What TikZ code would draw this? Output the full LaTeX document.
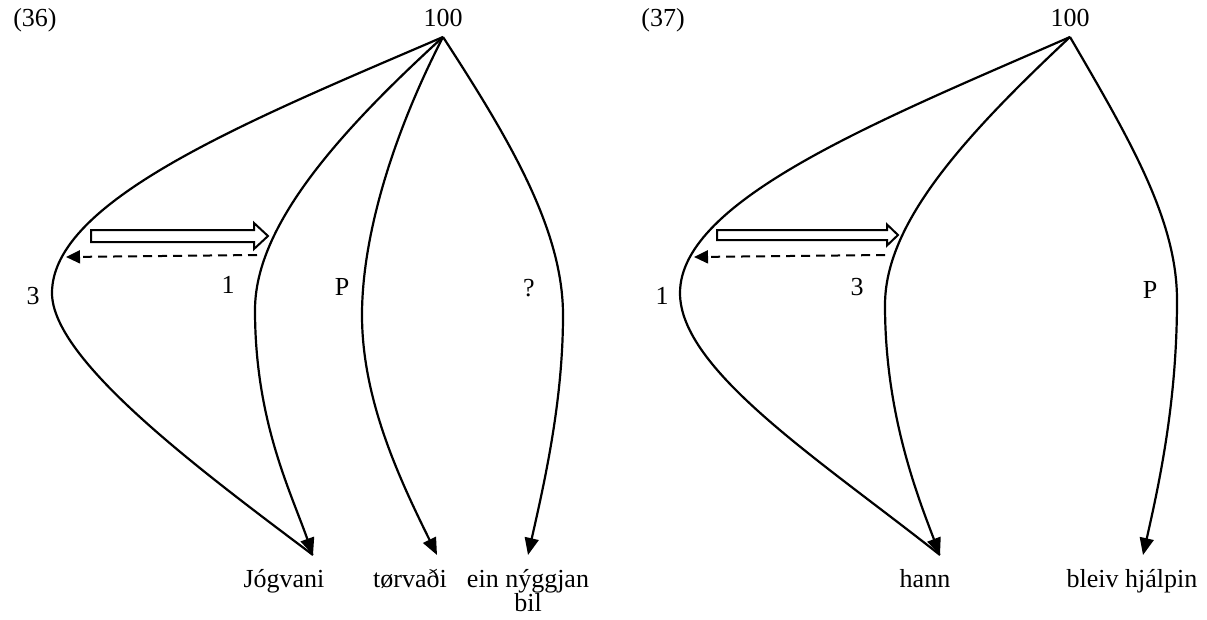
\documentclass[tikz,border=0pt]{standalone}
\usepackage{fontspec}
\setmainfont{Liberation Serif}
\usetikzlibrary{arrows.meta}
\begin{document}
\begin{tikzpicture}[x=1pt,y=-1pt,
  font=\fontsize{26}{24}\selectfont,
  curve/.style={line width=2.2pt},
  tipped/.style={curve,-{Triangle[length=17pt,width=14pt]}},
  dashback/.style={line width=2pt,dash pattern=on 9pt off 6pt,-{Triangle[length=14pt,width=13pt]}},
  hollow/.style={line width=2pt,fill=white,line join=miter},
  txt/.style={inner sep=0pt,anchor=center},
  word/.style={inner sep=0pt,anchor=base}]
\useasboundingbox (0,0) rectangle (1207,619);

% ===== (36) =====
\node[txt] (lab36) at (35,20) {(36)};
\coordinate (A) at (443,37);
\node[txt] (top36) at (443,18) {100};
\coordinate (Lt) at (52,293);
\coordinate (Jt) at (313,555);
\coordinate (Tt) at (437,555);
\coordinate (Et) at (528,555);
\coordinate (c2m) at (255,310);
\coordinate (c3m) at (362,315);
\coordinate (c4m) at (563,315);

\draw[curve] (A) .. controls (250,120) and (52,200) .. (Lt)
  .. controls (52,360) and (200,470) .. (Jt);
\draw[tipped] (A) .. controls (330,140) and (255,230) .. (c2m)
  .. controls (255,420) and (290,490) .. (Jt);
\draw[tipped] (A) .. controls (390,140) and (362,240) .. (c3m)
  .. controls (362,400) and (400,480) .. (Tt);
\draw[tipped] (A) .. controls (510,140) and (563,230) .. (c4m)
  .. controls (563,400) and (545,480) .. (Et);

% hollow arrow
\coordinate (h1s) at (91,236);
\coordinate (h1e) at (268,236);
\draw[hollow] (h1s) ++(0,-6) -- ++(163,0) -- ++(0,-7) -- (h1e) -- ++(-14,13) -- ++(0,-7) -- ++(-163,0) -- cycle;
% dashed arrow
\coordinate (d1s) at (257,255);
\coordinate (d1e) at (66,257);
\draw[dashback] (d1s) -- (d1e);

\node[txt] (n3a) at (33,296) {3};
\node[txt] (n1a) at (228,285) {1};
\node[txt] (nPa) at (342,287) {P};
\node[txt] (nQa) at (529,288) {?};

\node[word] (jog) at (284,587) {Jógvani};
\node[word] (torv) at (410,587) {tørvaði};
\node[word,align=center] (ein) at (528,611) {ein nýggjan\\bil};

% ===== (37) =====
\node[txt] (lab37) at (663,20) {(37)};
\coordinate (B) at (1070,37);
\node[txt] (top37) at (1070,18) {100};
\coordinate (Rt) at (680,293);
\coordinate (Ht) at (940,555);
\coordinate (Bt) at (1143,555);
\coordinate (r2m) at (885,305);
\coordinate (r3m) at (1177,300);

\draw[curve] (B) .. controls (880,120) and (680,200) .. (Rt)
  .. controls (680,370) and (820,460) .. (Ht);
\draw[tipped] (B) .. controls (960,140) and (885,225) .. (r2m)
  .. controls (885,410) and (915,490) .. (Ht);
\draw[tipped] (B) .. controls (1130,140) and (1177,220) .. (r3m)
  .. controls (1177,400) and (1160,480) .. (Bt);

\coordinate (h2s) at (717,235);
\coordinate (h2e) at (898,235);
\draw[hollow] (h2s) ++(0,-5) -- ++(170,0) -- ++(0,-5.5) -- (h2e) -- ++(-11,10.5) -- ++(0,-5.5) -- ++(-170,0) -- cycle;
\coordinate (d2s) at (885,255);
\coordinate (d2e) at (694,257);
\draw[dashback] (d2s) -- (d2e);

\node[txt] (n1b) at (662,296) {1};
\node[txt] (n3b) at (857,287) {3};
\node[txt] (nPb) at (1150,290) {P};

\node[word] (hann) at (925,587) {hann};
\node[word] (bleiv) at (1132,587) {bleiv hjálpin};
\end{tikzpicture}
\end{document}
